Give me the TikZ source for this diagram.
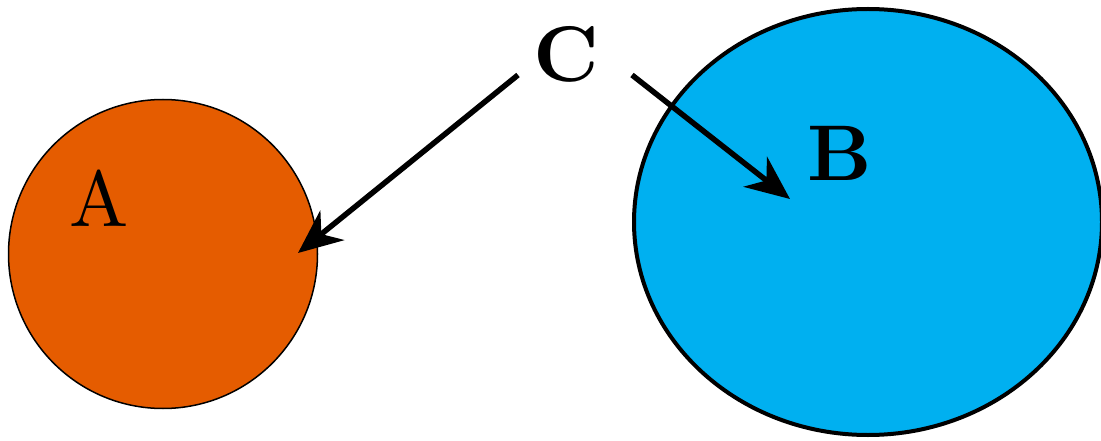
\documentclass[tikz,border=0pt]{standalone}
\usetikzlibrary{arrows.meta, shapes.geometric}

\definecolor{setorange}{RGB}{229,92,0}
\definecolor{setblue}{RGB}{0,176,240}

\tikzset{
    setlabel/.style={scale=7.9, inner sep=0pt},
    pointer/.style={->, line width=5.5pt}
}

\begin{document}
\begin{tikzpicture}[x=1pt, y=-1pt, >={Stealth[length=44pt, width=38pt, inset=14pt]}]

    \useasboundingbox (0,0) rectangle (1101,441);

    % Coordinates
    \coordinate (Astart) at (518,75);   % tail of the arrow into A
    \coordinate (Atip)   at (298,253);  % tip inside A
    \coordinate (Bstart) at (632,75);   % tail of the arrow into B
    \coordinate (Btip)   at (790,199);  % tip inside B

    % 1. The two sets
    \node[circle, draw, line width=1.5pt, fill=setorange, minimum size=309pt, inner sep=0pt]
        (setA) at (163,254) {};
    \node[ellipse, draw, line width=4pt, fill=setblue, minimum width=468pt,
        minimum height=426pt, inner sep=0pt] (setB) at (868,222) {};

    % 2. Labels
    \node[setlabel] (A) at (99,198) {A};
    \node[setlabel] (B) at (840,153) {\textbf{B}};
    \node[setlabel] (C) at (566,54) {\textbf{C}};

    % 3. Arrows from C
    \draw[pointer] (Astart) -- (Atip);
    \draw[pointer] (Bstart) -- (Btip);

\end{tikzpicture}
\end{document}
